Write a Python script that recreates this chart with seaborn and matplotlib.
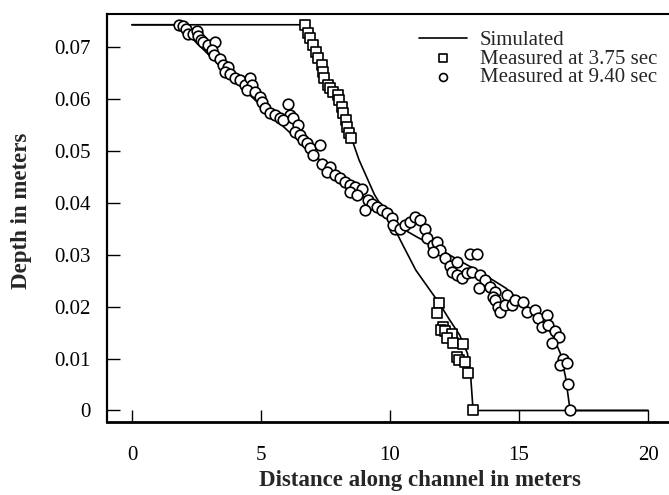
#!/usr/bin/env python3
"""
Flow depth profile along a channel: simulated vs measured at two times
"""

import pandas as pd
import seaborn as sns
import matplotlib.pyplot as plt

# Simulated profile at 3.75 sec
sim_375_x = [0.0, 6.75, 7.0, 7.5, 8.0, 8.5, 8.8, 9.4, 10.0, 10.5, 11.0, 11.5,
             11.9, 12.3, 12.7, 13.0, 13.12, 13.22, 20.0]
sim_375_y = [0.0742, 0.0742, 0.0705, 0.0645, 0.0595, 0.0525, 0.0482, 0.0415,
             0.0367, 0.0318, 0.0270, 0.0235, 0.0207, 0.0175, 0.0145, 0.0110,
             0.0070, 0.0, 0.0]

# Simulated profile at 9.40 sec
sim_940_x = [0.0, 1.8, 3.0, 4.5, 6.0, 7.5, 9.0, 10.3, 11.0, 12.0, 12.7, 13.5,
             14.5, 15.0, 15.8, 16.3, 16.6, 16.8, 16.98, 20.0]
sim_940_y = [0.0742, 0.0742, 0.0683, 0.0610, 0.0540, 0.0472, 0.0410, 0.0355,
             0.0335, 0.0308, 0.0288, 0.0266, 0.0235, 0.0212, 0.0180, 0.0145,
             0.0110, 0.0065, 0.0, 0.0]

# Measured at 3.75 sec (squares)
meas_375_x = [6.71, 6.83, 6.90, 7.02, 7.14, 7.21, 7.37, 7.41, 7.45, 7.60,
              7.68, 7.79, 7.99, 8.03, 8.14, 8.18, 8.30, 8.34, 8.42, 8.49,
              11.91, 11.81, 12.07, 11.97, 12.14, 12.40, 12.20, 12.46, 12.82,
              12.59, 12.69, 12.92, 13.02, 13.21]
meas_375_y = [0.0741, 0.0726, 0.0716, 0.0703, 0.0690, 0.0678, 0.0665, 0.0651,
              0.0639, 0.0626, 0.0620, 0.0612, 0.0607, 0.0597, 0.0584, 0.0572,
              0.0558, 0.0545, 0.0534, 0.0524,
              0.0207, 0.0188, 0.0161, 0.0155, 0.0152, 0.0148, 0.0139, 0.0130,
              0.0128, 0.0103, 0.0097, 0.0094, 0.0073, 0.0]

# Measured at 9.40 sec (circles)
meas_940_x = [1.83, 1.99, 2.09, 2.19, 2.38, 2.51, 2.57, 2.68, 2.77, 2.96,
              3.22, 3.09, 3.19, 3.41, 3.54, 3.74, 3.61, 3.80, 4.00, 4.19,
              4.38, 4.58, 4.64, 4.45, 4.77, 4.97, 5.03, 5.16, 5.35, 5.55,
              5.74, 6.06, 6.13, 5.87, 6.26, 6.45, 6.32, 6.52, 6.64, 6.78,
              6.90, 7.29, 7.03, 7.36, 7.68, 7.55, 7.87, 8.07, 8.26, 8.45,
              8.65, 8.91, 8.45, 8.71, 9.16, 9.29, 9.03, 9.49, 9.68, 9.88,
              10.07, 10.20, 10.13, 10.39, 10.59, 10.78, 10.97, 11.17, 11.36, 11.43,
              11.68, 11.81, 11.94, 12.14, 12.33, 12.59, 11.68, 12.40, 12.59, 12.78,
              12.98, 13.17, 13.10, 13.36, 13.49, 13.69, 13.43, 13.88, 14.07, 14.01,
              14.53, 14.07, 14.20, 14.27, 14.46, 14.72, 14.85, 15.17, 15.30, 15.62,
              15.75, 16.08, 15.88, 16.14, 16.40, 16.53, 16.27, 16.72, 16.59, 16.85,
              16.91, 16.98]
meas_940_y = [0.0741, 0.0740, 0.0734, 0.0725, 0.0725, 0.0730, 0.0721, 0.0713, 0.0708, 0.0703,
              0.0709, 0.0693, 0.0684, 0.0677, 0.0664, 0.0661, 0.0652, 0.0648, 0.0639, 0.0636,
              0.0626, 0.0639, 0.0626, 0.0616, 0.0613, 0.0603, 0.0593, 0.0581, 0.0572, 0.0568,
              0.0562, 0.0589, 0.0568, 0.0559, 0.0562, 0.0549, 0.0536, 0.0530, 0.0520, 0.0514,
              0.0504, 0.0511, 0.0491, 0.0475, 0.0469, 0.0459, 0.0453, 0.0447, 0.0440, 0.0434,
              0.0430, 0.0427, 0.0421, 0.0414, 0.0405, 0.0398, 0.0386, 0.0392, 0.0386, 0.0379,
              0.0370, 0.0350, 0.0357, 0.0350, 0.0357, 0.0363, 0.0373, 0.0366, 0.0350, 0.0331,
              0.0318, 0.0325, 0.0309, 0.0293, 0.0277, 0.0286, 0.0305, 0.0267, 0.0261, 0.0254,
              0.0264, 0.0267, 0.0302, 0.0302, 0.0261, 0.0251, 0.0235, 0.0238, 0.0228, 0.0219,
              0.0222, 0.0213, 0.0200, 0.0190, 0.0203, 0.0203, 0.0213, 0.0209, 0.0190, 0.0193,
              0.0177, 0.0184, 0.0161, 0.0164, 0.0152, 0.0142, 0.0129, 0.0100, 0.0088, 0.0091,
              0.0051, 0.0]

x_ticks = [0, 5, 10, 15, 20]
y_ticks = [0, 0.01, 0.02, 0.03, 0.04, 0.05, 0.06, 0.07]
y_tick_labels = ["0", "0.01", "0.02", "0.03", "0.04", "0.05", "0.06", "0.07"]


def main():
    sim_375 = pd.DataFrame({"x": sim_375_x, "y": sim_375_y})
    sim_940 = pd.DataFrame({"x": sim_940_x, "y": sim_940_y})
    m375 = pd.DataFrame({"x": meas_375_x, "y": meas_375_y})
    m940 = pd.DataFrame({"x": meas_940_x, "y": meas_940_y})

    sns.set_style("ticks")
    plt.rcParams['font.family'] = ['Liberation Serif', 'DejaVu Serif']

    fig = plt.figure(figsize=(6.69, 4.95), dpi=100)
    # axes run past the right edge of the figure (cropped like the scan)
    ax = fig.add_axes([0.160, 0.1475, 0.936, 0.824])

    sns.lineplot(data=sim_375, x="x", y="y", ax=ax, color="black", lw=1.2,
                 sort=False, estimator=None, label="Simulated", zorder=2)
    sns.lineplot(data=sim_940, x="x", y="y", ax=ax, color="black", lw=1.2,
                 sort=False, estimator=None, zorder=2)
    sns.scatterplot(data=m375, x="x", y="y", ax=ax, marker="s", s=48,
                    facecolor="white", edgecolor="black", linewidth=1.2,
                    label="Measured at 3.75 sec", zorder=3)
    sns.scatterplot(data=m940, x="x", y="y", ax=ax, marker="o", s=58,
                    facecolor="white", edgecolor="black", linewidth=1.2,
                    label="Measured at 9.40 sec", zorder=3)

    ax.set_xlim(-0.965, 23.3)
    ax.set_ylim(-0.00221, 0.07625)
    ax.set_xticks(x_ticks)
    ax.set_yticks(y_ticks)
    ax.set_yticklabels(y_tick_labels)
    ax.tick_params(direction="in", length=9, width=1, labelsize=15,
                   color="black", labelcolor="black")
    ax.tick_params(axis="y", pad=12)
    ax.tick_params(axis="x", pad=17)

    ax.spines["right"].set_visible(False)
    ax.spines["left"].set_linewidth(1.6)
    ax.spines["top"].set_linewidth(1.5)
    ax.spines["bottom"].set_linewidth(2.0)
    for s in ax.spines.values():
        s.set_color("black")

    ax.set_xlabel("Distance along channel in meters", fontsize=16.5,
                  fontweight="bold", labelpad=4)
    ax.set_ylabel("Depth in meters", fontsize=16.5, fontweight="bold")
    ax.yaxis.set_label_coords(-0.12, 0.517)

    ax.legend(loc="upper left", bbox_to_anchor=(0.481, 0.985), frameon=False,
              fontsize=15, handlelength=2.3, handletextpad=0.65,
              labelspacing=-0.05, borderpad=0, markerscale=0.75)

    fig.savefig("out.png", dpi=100)


if __name__ == "__main__":
    main()
